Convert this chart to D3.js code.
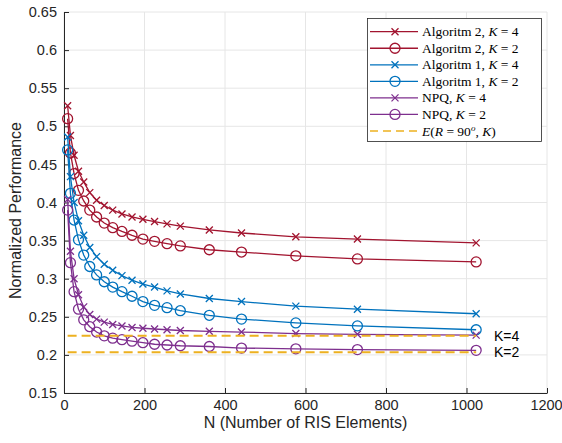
<!DOCTYPE html>
<html>
<head>
  <title></title>
  <script src="https://d3js.org/d3.v7.min.js"></script>
  <style>
    body { margin: 0; background: #fff; }
    text { font-family: "Liberation Sans", Arial, sans-serif; fill: #262626; }
    .leg text { font-family: "Liberation Serif", "Times New Roman", serif; fill: #000; }
  </style>
</head>
<body>
<script type="text/javascript">
// number of RIS elements
var N = [9, 16, 25, 36, 49, 64, 81, 100, 121, 144, 169, 196, 225, 256, 289, 361, 441, 576, 729, 1024];

// series values
var alg2K4 = [0.527, 0.488, 0.462, 0.441, 0.427, 0.413, 0.403, 0.396, 0.390, 0.385, 0.381, 0.378, 0.375, 0.372, 0.369, 0.364, 0.360, 0.355, 0.352, 0.347];
var alg2K2 = [0.510, 0.465, 0.438, 0.416, 0.402, 0.390, 0.381, 0.373, 0.367, 0.362, 0.357, 0.352, 0.349, 0.346, 0.343, 0.338, 0.335, 0.330, 0.326, 0.322];
var alg1K4 = [0.486, 0.434, 0.400, 0.376, 0.357, 0.341, 0.329, 0.319, 0.311, 0.304, 0.298, 0.293, 0.289, 0.284, 0.280, 0.274, 0.270, 0.264, 0.260, 0.254];
var alg1K2 = [0.469, 0.412, 0.377, 0.351, 0.331, 0.316, 0.305, 0.296, 0.289, 0.283, 0.277, 0.270, 0.265, 0.262, 0.258, 0.252, 0.247, 0.242, 0.238, 0.233];
var npqK4  = [0.404, 0.336, 0.300, 0.279, 0.263, 0.253, 0.247, 0.243, 0.240, 0.238, 0.236, 0.235, 0.234, 0.233, 0.232, 0.231, 0.230, 0.228, 0.227, 0.226];
var npqK2  = [0.390, 0.321, 0.283, 0.260, 0.246, 0.237, 0.230, 0.225, 0.222, 0.220, 0.218, 0.216, 0.214, 0.213, 0.212, 0.211, 0.209, 0.208, 0.207, 0.206];
var boundK4 = 0.225, boundK2 = 0.2035;

var xTicks = [0, 200, 400, 600, 800, 1000, 1200];
var yTicks = [0.15, 0.2, 0.25, 0.3, 0.35, 0.4, 0.45, 0.5, 0.55, 0.6, 0.65];

var red = "#A2142F", blue = "#0072BD", purple = "#7E2F8E", yellow = "#EDB120";

var series = [
  {name: "Algoritm 2, ", k: "4", vals: alg2K4, color: red, mark: "x"},
  {name: "Algoritm 2, ", k: "2", vals: alg2K2, color: red, mark: "o"},
  {name: "Algoritm 1, ", k: "4", vals: alg1K4, color: blue, mark: "x"},
  {name: "Algoritm 1, ", k: "2", vals: alg1K2, color: blue, mark: "o"},
  {name: "NPQ, ", k: "4", vals: npqK4, color: purple, mark: "x"},
  {name: "NPQ, ", k: "2", vals: npqK2, color: purple, mark: "o"}
];

var W = 562, H = 443;
var svg = d3.select("body").append("svg").attr("width", W).attr("height", H);

var x = d3.scaleLinear().domain([0, 1200]).range([64, 547]);
var y = d3.scaleLinear().domain([0.15, 0.65]).range([393, 12]);

//grid
svg.append("g").selectAll("line").data(xTicks).enter().append("line")
   .attr("x1", function(d){return x(d);}).attr("x2", function(d){return x(d);})
   .attr("y1", y(0.15)).attr("y2", y(0.65))
   .style("stroke", "#e6e6e6").style("stroke-width", 1);
svg.append("g").selectAll("line").data(yTicks).enter().append("line")
   .attr("x1", x(0)).attr("x2", x(1200))
   .attr("y1", function(d){return y(d);}).attr("y2", function(d){return y(d);})
   .style("stroke", "#e6e6e6").style("stroke-width", 1);

//axes
var xAxis = svg.append("g").attr("transform", "translate(0," + y(0.15) + ")")
   .call(d3.axisBottom(x).tickValues(xTicks).tickFormat(d3.format("d")).tickSizeInner(-5).tickSizeOuter(0).tickPadding(7));
var yAxis = svg.append("g").attr("transform", "translate(" + x(0) + ",0)")
   .call(d3.axisLeft(y).tickValues(yTicks).tickFormat(d3.format("~g")).tickSizeInner(-5).tickSizeOuter(0).tickPadding(7));
[xAxis, yAxis].forEach(function(a){
  a.select(".domain").style("stroke", "#262626").style("stroke-width", 1);
  a.selectAll(".tick line").style("stroke", "#262626");
  a.selectAll(".tick text").style("font-size", "14.5px").style("fill", "#262626")
   .style("font-family", "'Liberation Sans', Arial, sans-serif");
});
xAxis.selectAll(".tick text").filter(function(d){return d === 1200;}).attr("dx", -1);

svg.append("text").attr("x", (x(0) + x(1200)) / 2).attr("y", 428)
   .attr("text-anchor", "middle").style("font-size", "16px")
   .text("N (Number of RIS Elements)");
svg.append("text").attr("transform", "translate(21," + (y(0.4) + 8) + ") rotate(-90)")
   .attr("text-anchor", "middle").style("font-size", "16px")
   .text("Normalized Performance");

//curves
var line = d3.line().x(function(d){return x(d[0]);}).y(function(d){return y(d[1]);});

function drawMarker(g, mark, color, cx, cy) {
  if (mark === "o") {
    g.append("circle").attr("cx", cx).attr("cy", cy).attr("r", 5)
     .style("fill", "none").style("stroke", color).style("stroke-width", 1.3);
  } else {
    var s = 3.5;
    g.append("path").attr("d", "M" + (cx - s) + "," + (cy - s) + "L" + (cx + s) + "," + (cy + s) +
                               "M" + (cx - s) + "," + (cy + s) + "L" + (cx + s) + "," + (cy - s))
     .style("stroke", color).style("stroke-width", 1.3);
  }
}

series.forEach(function(s){
  var pts = N.map(function(n, i){return [n, s.vals[i]];});
  var g = svg.append("g");
  g.append("path").datum(pts).attr("d", line)
   .style("fill", "none").style("stroke", s.color).style("stroke-width", 1.3);
  pts.forEach(function(p){ drawMarker(g, s.mark, s.color, x(p[0]), y(p[1])); });
});

//bounds
[boundK4, boundK2].forEach(function(b){
  svg.append("line").attr("x1", x(N[0])).attr("x2", x(N[N.length - 1]))
     .attr("y1", y(b)).attr("y2", y(b))
     .style("stroke", yellow).style("stroke-width", 2).style("stroke-dasharray", "9,5");
});
svg.append("text").attr("x", 494).attr("y", y(boundK4) + 5).style("font-size", "14px").style("fill", "#000").text("K=4");
svg.append("text").attr("x", 494).attr("y", y(boundK2) + 5).style("font-size", "14px").style("fill", "#000").text("K=2");

//legend
var leg = svg.append("g").attr("class", "leg");
leg.append("rect").attr("x", 367.5).attr("y", 18.5).attr("width", 174).attr("height", 123)
   .style("fill", "#fff").style("stroke", "#262626").style("stroke-width", 0.8);
var rowY = function(i){return 31.7 + i * 16.55;};
series.forEach(function(s, i){
  var cy = rowY(i);
  leg.append("line").attr("x1", 370).attr("x2", 418).attr("y1", cy).attr("y2", cy)
     .style("stroke", s.color).style("stroke-width", 1.3);
  drawMarker(leg, s.mark, s.color, 395, cy);
  var t = leg.append("text").attr("x", 422).attr("y", cy + 4.5).style("font-size", "13.5px");
  t.append("tspan").text(s.name);
  t.append("tspan").style("font-style", "italic").text("K");
  t.append("tspan").text(" = " + s.k);
});
var cy6 = rowY(6);
leg.append("line").attr("x1", 370).attr("x2", 418).attr("y1", cy6).attr("y2", cy6)
   .style("stroke", yellow).style("stroke-width", 1.5).style("stroke-dasharray", "8,5");
var te = leg.append("text").attr("x", 422).attr("y", cy6 + 4.5).style("font-size", "13.5px");
te.append("tspan").style("font-style", "italic").text("E");
te.append("tspan").text("(");
te.append("tspan").style("font-style", "italic").text("R");
te.append("tspan").text(" = 90");
te.append("tspan").attr("dy", -5).style("font-size", "9px").style("font-style", "italic").text("o");
te.append("tspan").attr("dy", 5).text(", ");
te.append("tspan").style("font-style", "italic").text("K");
te.append("tspan").text(")");
</script>
</body>
</html>
